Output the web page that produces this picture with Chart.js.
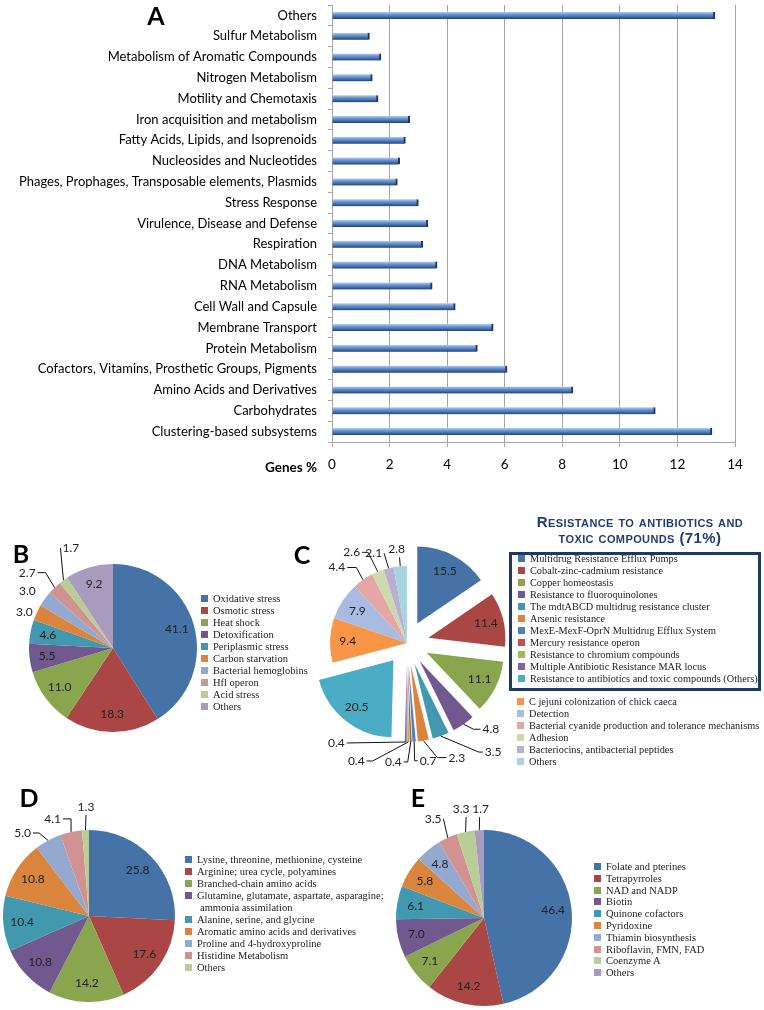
<!DOCTYPE html>
<html>
<head>
<meta charset="utf-8">
<script src="https://cdn.jsdelivr.net/npm/chart.js@4.4.1/dist/chart.umd.min.js"></script>
<style>
  body { margin: 0; background: #fff; width: 764px; height: 1010px; position: relative; overflow: hidden; font-family: Lato, sans-serif; }
  canvas { position: absolute; }
  .tag { position: absolute; font: bold 25px Lato, sans-serif; line-height: 25px; transform: translate(-50%, -50%); }
  .leg { position: absolute; font-family: "Liberation Serif", serif; font-size: 10.5px; color: #222; }
  .leg div { height: 12px; line-height: 12px; white-space: nowrap; position: relative; padding-left: 12px; }
  .leg i { position: absolute; left: 0; top: 2px; width: 7px; height: 7px; }
  .note { position: absolute; font: bold 13.5px Lato, sans-serif; transform: translate(-50%, -50%); }
  .title { position: absolute; left: 640px; top: 514px; transform: translateX(-50%); text-align: center; font: bold 15px "Liberation Sans", sans-serif; font-variant: small-caps; letter-spacing: 0.4px; line-height: 16px; color: #1f3d6e; white-space: nowrap; }
  .box { position: absolute; left: 509px; top: 552px; width: 246px; height: 133px; border: 3px solid #1f3864; }
</style>
</head>
<body>

<canvas id="cA" width="764" height="480" style="left:0;top:0"></canvas>
<canvas id="cB" width="240" height="240" style="left:-7px;top:528px"></canvas>
<canvas id="cC" width="260" height="260" style="left:277px;top:513px"></canvas>
<canvas id="cD" width="240" height="240" style="left:-31px;top:796px"></canvas>
<canvas id="cE" width="240" height="240" style="left:364px;top:798px"></canvas>

<div class="tag" style="left:156px;top:15px">A</div>
<div class="tag" style="left:21px;top:553px">B</div>
<div class="tag" style="left:302px;top:554px">C</div>
<div class="tag" style="left:29px;top:797px">D</div>
<div class="tag" style="left:418px;top:797px">E</div>
<div class="note" style="left:291px;top:467px">Genes %</div>

<div class="title">Resistance to antibiotics and<br>toxic compounds (71%)</div>
<div class="box"></div>

<div class="leg" id="legB" style="left:201px;top:593px"></div>
<div class="leg" id="legC1" style="left:518px;top:553px;font-size:10.3px"></div>
<div class="leg" id="legC2" style="left:517px;top:696px;font-size:10.3px"></div>
<div class="leg" id="legD" style="left:185px;top:854px"></div>
<div class="leg" id="legE" style="left:594px;top:861px"></div>

<script>
// A: subsystem distribution (genes %)
const catsA = [
  'Others', 'Sulfur Metabolism', 'Metabolism of Aromatic Compounds', 'Nitrogen Metabolism',
  'Motility and Chemotaxis', 'Iron acquisition and metabolism', 'Fatty Acids, Lipids, and Isoprenoids',
  'Nucleosides and Nucleotides', 'Phages, Prophages, Transposable elements, Plasmids', 'Stress Response',
  'Virulence, Disease and Defense', 'Respiration', 'DNA Metabolism', 'RNA Metabolism',
  'Cell Wall and Capsule', 'Membrane Transport', 'Protein Metabolism',
  'Cofactors, Vitamins, Prosthetic Groups, Pigments', 'Amino Acids and Derivatives',
  'Carbohydrates', 'Clustering-based subsystems'
];
const valsA = [13.3, 1.3, 1.7, 1.4, 1.6, 2.7, 2.55, 2.35, 2.27, 3.0, 3.33, 3.15, 3.65, 3.48, 4.28, 5.6, 5.05, 6.08, 8.37, 11.23, 13.2];
const ticksA = [0, 2, 4, 6, 8, 10, 12, 14];

// B: stress response
const catsB = ['Oxidative stress', 'Osmotic stress', 'Heat shock', 'Detoxification', 'Periplasmic stress',
  'Carbon starvation', 'Bacterial hemoglobins', 'Hfl operon', 'Acid stress', 'Others'];
const valsB = [41.1, 18.3, 11.0, 5.5, 4.6, 3.0, 3.0, 2.7, 1.7, 9.2];

// C: virulence, disease and defense
const catsC = ['Multidrug Resistance Efflux Pumps', 'Cobalt-zinc-cadmium resistance', 'Copper homeostasis',
  'Resistance to fluoroquinolones', 'The mdtABCD multidrug resistance cluster', 'Arsenic resistance',
  'MexE-MexF-OprN Multidrug Efflux System', 'Mercury resistance operon', 'Resistance to chromium compounds',
  'Multiple Antibiotic Resistance MAR locus', 'Resistance to antibiotics and toxic compounds (Others)',
  'C jejuni colonization of chick caeca', 'Detection', 'Bacterial cyanide production and tolerance mechanisms',
  'Adhesion', 'Bacteriocins, antibacterial peptides', 'Others'];
const valsC = [15.5, 11.4, 11.1, 4.8, 3.5, 2.3, 0.7, 0.4, 0.4, 0.4, 20.5, 9.4, 7.9, 4.4, 2.6, 2.1, 2.8];
const boxedC = 11; // first entries belong to "resistance to antibiotics" (71%)

// D: amino acids and derivatives
const catsD = ['Lysine, threonine, methionine, cysteine', 'Arginine; urea cycle, polyamines',
  'Branched-chain amino acids', 'Glutamine, glutamate, aspartate, asparagine;\nammonia assimilation',
  'Alanine, serine, and glycine', 'Aromatic amino acids and derivatives', 'Proline and 4-hydroxyproline',
  'Histidine Metabolism', 'Others'];
const valsD = [25.8, 17.6, 14.2, 10.8, 10.4, 10.8, 5.0, 4.1, 1.3];

// E: cofactors, vitamins
const catsE = ['Folate and pterines', 'Tetrapyrroles', 'NAD and NADP', 'Biotin', 'Quinone cofactors',
  'Pyridoxine', 'Thiamin biosynthesis', 'Riboflavin, FMN, FAD', 'Coenzyme A', 'Others'];
const valsE = [46.4, 14.2, 7.1, 7.0, 6.1, 5.8, 4.8, 3.5, 3.3, 1.7];

// colours
const pal = ['#4572A7', '#AA4643', '#89A54E', '#71588F', '#4198AF', '#DB843D', '#93A9CF', '#D19392', '#B9CD96', '#A99BBD'];
const palC = ['#4572A7', '#AA4643', '#89A54E', '#71588F', '#4198AF', '#DB843D', '#4F81BD', '#C0504D', '#9BBB59',
  '#8064A2', '#4BACC6', '#F79646', '#A8BBE1', '#E4A7A6', '#CCDAAE', '#B9AFD0', '#A7D4E1'];

// ---- bar chart A ----
function barFill(c) {
  const ys = c.chart.scales.y;
  if (!ys || c.dataIndex === undefined) return '#4f81bd';
  const py = ys.getPixelForValue(c.dataIndex);
  if (!isFinite(py)) return '#4f81bd';
  const g = c.chart.ctx.createLinearGradient(0, py - 3.5, 0, py + 3.5);
  g.addColorStop(0, '#b9cfec');
  g.addColorStop(0.35, '#6c97d2');
  g.addColorStop(0.7, '#3f6eb0');
  g.addColorStop(1, '#223f6e');
  return g;
}

new Chart(document.getElementById('cA'), {
  type: 'bar',
  data: {
    labels: catsA,
    datasets: [{
      data: valsA,
      backgroundColor: barFill,
      borderColor: '#1b355e',
      borderWidth: { top: 0, right: 2, bottom: 0, left: 0 },
      barThickness: 7
    }]
  },
  options: {
    indexAxis: 'y',
    responsive: false,
    animation: false,
    devicePixelRatio: 1,
    events: [],
    layout: { padding: { top: 5, right: 29, left: 0, bottom: 0 } },
    plugins: { legend: { display: false }, tooltip: { enabled: false } },
    scales: {
      x: {
        min: ticksA[0],
        max: ticksA[ticksA.length - 1],
        ticks: { stepSize: 2, color: '#000', font: { family: 'Lato', size: 13.5 }, padding: 10 },
        grid: { color: '#a6a6a6', tickLength: 5 },
        border: { color: '#a6a6a6' },
        afterFit: function (s) { s.height = 38; }
      },
      y: {
        ticks: { color: '#000', font: { family: 'Lato', size: 13 }, padding: 11, autoSkip: false },
        grid: { drawOnChartArea: false, tickLength: 4, color: '#a6a6a6', offset: true },
        border: { color: '#a6a6a6' },
        afterFit: function (s) {
          s.width = 332;
          s.paddingTop = 0;
          s.paddingBottom = 0;
        }
      }
    }
  }
});

// ---- pies ----
function explodePlugin(amounts) {
  return {
    id: 'explode',
    afterDatasetUpdate(chart, args) {
      args.meta.data.forEach((a, i) => {
        const o = amounts[i] || 0;
        if (!o) return;
        const mid = (a.startAngle + a.endAngle) / 2;
        a.x += Math.cos(mid) * o;
        a.y += Math.sin(mid) * o;
      });
    }
  };
}

function labelPlugin(callouts, k) {
  return {
    id: 'pieLabels',
    afterDatasetsDraw(chart) {
      const ctx = chart.ctx;
      const meta = chart.getDatasetMeta(0);
      const vals = chart.data.datasets[0].data;
      ctx.save();
      ctx.font = '12px Lato';
      ctx.fillStyle = '#222';
      ctx.strokeStyle = '#111';
      ctx.lineWidth = 1;
      meta.data.forEach((a, i) => {
        const mid = (a.startAngle + a.endAngle) / 2;
        const cs = Math.cos(mid), sn = Math.sin(mid);
        const txt = vals[i].toFixed(1);
        const c = callouts.find(o => o.i === i);
        ctx.textBaseline = 'middle';
        if (!c) {
          ctx.textAlign = 'center';
          ctx.fillText(txt, a.x + cs * a.outerRadius * k, a.y + sn * a.outerRadius * k);
          return;
        }
        const ex = a.x + cs * a.outerRadius, ey = a.y + sn * a.outerRadius;
        const px = ex + c.dx, py = ey + c.dy;
        if (c.line !== false) {
          ctx.beginPath();
          ctx.moveTo(px, py);
          ctx.lineTo(px + (c.stub || 0), py);
          ctx.lineTo(ex, ey);
          ctx.stroke();
        }
        const tx = px + (c.tx || 0);
        if (c.pos === 'l') {
          ctx.textAlign = 'right';
          ctx.fillText(txt, tx - 2, py);
        } else if (c.pos === 'r') {
          ctx.textAlign = 'left';
          ctx.fillText(txt, tx + 2, py);
        } else {
          ctx.textAlign = 'center';
          ctx.fillText(txt, tx, py - 8);
        }
      });
      ctx.restore();
    }
  };
}

function makePie(id, labels, vals, colors, r, k, callouts, explode) {
  new Chart(document.getElementById(id), {
    type: 'pie',
    data: { labels: labels, datasets: [{ data: vals, backgroundColor: colors, borderWidth: 0 }] },
    options: {
      responsive: false,
      animation: false,
      devicePixelRatio: 1,
      events: [],
      radius: r,
      layout: { padding: 0 },
      plugins: { legend: { display: false }, tooltip: { enabled: false } }
    },
    plugins: [explodePlugin(explode || []), labelPlugin(callouts, k)]
  });
}

makePie('cB', catsB, valsB, pal, 84, 0.79, [
  { i: 5, dx: -2, dy: -1, pos: 'l', line: false },
  { i: 6, dx: -7, dy: -8, pos: 'l', line: false },
  { i: 7, dx: -17, dy: -15, stub: 8, pos: 'l' },
  { i: 8, dx: -3, dy: -32, stub: 0, pos: 'r' }
]);

makePie('cC', catsC, valsC, palC, 77, 0.77, [
  { i: 3, dx: 17, dy: 5, stub: -7, pos: 'r' },
  { i: 4, dx: 42, dy: 16, stub: -4, pos: 'r' },
  { i: 5, dx: 23, dy: 17, stub: -9, pos: 'r' },
  { i: 6, dx: 3.5, dy: 19, stub: -3, pos: 'r' },
  { i: 7, dx: -7, dy: 20, stub: 4, pos: 'l' },
  { i: 8, dx: -41.6, dy: 19, stub: 6, pos: 'l' },
  { i: 9, dx: -59, dy: 1, stub: 0, pos: 'l' },
  { i: 13, dx: -15.7, dy: -12.3, stub: 9, pos: 'l' },
  { i: 14, dx: -15.7, dy: -19.4, stub: 6, pos: 'l' },
  { i: 15, dx: -4.5, dy: -15, stub: 0, pos: 'l' },
  { i: 16, dx: -0.7, dy: -9, stub: 0, pos: 't', tx: -3 }
], valsC.map((v, i) => (i < boxedC ? 22 : 0)));

makePie('cD', catsD, valsD, pal, 86, 0.78, [
  { i: 6, dx: -15, dy: -7.4, stub: 6, pos: 'l' },
  { i: 7, dx: -8, dy: -13, stub: 8, pos: 'l' },
  { i: 8, dx: 0.5, dy: -15, stub: 0, pos: 't' }
]);

makePie('cE', catsE, valsE, pal, 88, 0.79, [
  { i: 7, dx: -4.3, dy: -19, stub: 0, pos: 'l' },
  { i: 8, dx: 0.5, dy: -15, stub: 0, pos: 't', tx: -5 },
  { i: 9, dx: 0.3, dy: -13, stub: 0, pos: 't', tx: 1 }
]);

// ---- legends ----
function fillLegend(id, labels, colors, rowH) {
  const box = document.getElementById(id);
  labels.forEach((t, i) => {
    t.split('\n').forEach((part, j) => {
      const row = document.createElement('div');
      if (rowH) row.style.height = row.style.lineHeight = rowH + 'px';
      if (j === 0) {
        const sw = document.createElement('i');
        sw.style.background = colors[i];
        row.appendChild(sw);
      } else {
        row.style.paddingLeft = '15px';
      }
      row.appendChild(document.createTextNode(part));
      box.appendChild(row);
    });
  });
}

fillLegend('legB', catsB, pal);
fillLegend('legC1', catsC.slice(0, boxedC), palC.slice(0, boxedC));
fillLegend('legC2', catsC.slice(boxedC), palC.slice(boxedC));
fillLegend('legD', catsD, pal);
fillLegend('legE', catsE, pal, 11.8);
</script>
</body>
</html>
